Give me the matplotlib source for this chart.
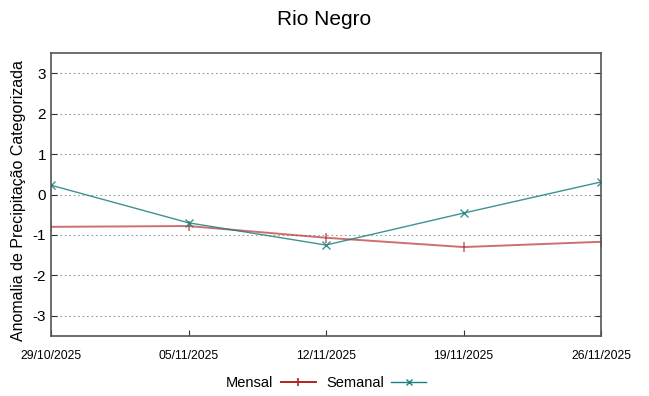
import matplotlib
matplotlib.use('Agg')
import matplotlib.pyplot as plt

plt.rcParams['font.family'] = ['Liberation Sans', 'DejaVu Sans']

datas = ['29/10/2025', '05/11/2025', '12/11/2025', '19/11/2025', '26/11/2025']
mensal = [-0.80, -0.78, -1.07, -1.30, -1.17]
semanal = [0.23, -0.70, -1.25, -0.46, 0.31]
yticks = [-3, -2, -1, 0, 1, 2, 3]

fig = plt.figure(figsize=(6.49, 3.96), dpi=100)
ax = fig.add_axes([51/649, 1 - 336/396, 550/649, 283/396])
x = list(range(len(datas)))

ax.plot(x, mensal, color='#b22222', alpha=0.65, lw=1.4, marker='|', ms=7,
        mew=1.2, label='Mensal')
ax.plot(x, semanal, color='#1e7f7f', alpha=0.85, lw=1.0, marker='x', ms=5.5,
        mew=1.0, label='Semanal')

ax.set_xlim(0, len(datas) - 1)
ax.set_ylim(-3.5, 3.5)
ax.set_xticks(x)
ax.set_xticklabels(datas, fontsize=8.8, fontstretch='condensed')
ax.set_yticks(yticks)
ax.set_yticklabels([str(v) for v in yticks], fontsize=11)
ax.tick_params(direction='in', length=4, color='#333333', top=False, right=True)
ax.tick_params(axis='x', pad=10)
ax.grid(axis='y', linestyle=(0, (1.5, 2.5)), color='#999999', lw=0.8)
for s in ax.spines.values():
    s.set_color('#555555')
    s.set_linewidth(1.2)
ax.set_ylabel('Anomalia de Precipitação Categorizada', fontsize=11.5)
ax.yaxis.set_label_coords(-0.045, 0.477)

fig.suptitle('Rio Negro', fontsize=15, y=0.975)

leg = ax.legend(loc='upper center', bbox_to_anchor=(0.5, -0.095), ncol=2,
                frameon=False, markerfirst=False, fontsize=10.5,
                handlelength=2.4, columnspacing=0.7, handletextpad=0.5,
                markerscale=0.8)
for h in leg.legend_handles:
    h.set_alpha(1)

plt.savefig('out.png', dpi=100)
